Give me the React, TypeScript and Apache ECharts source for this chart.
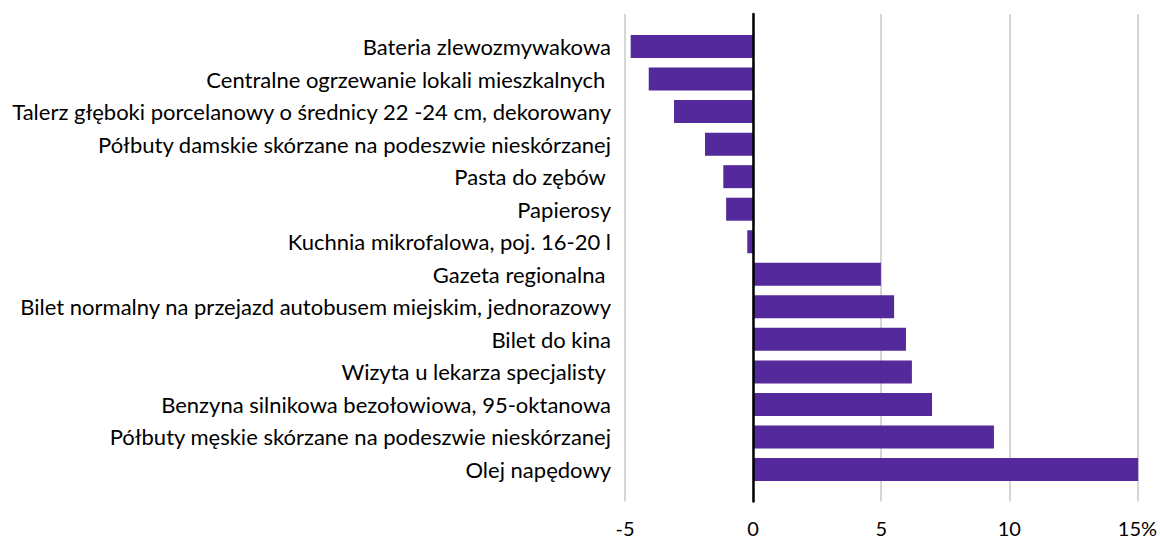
import React, { useEffect, useRef } from "react";
import * as echarts from "echarts";

const categories: string[] = [
  "Bateria zlewozmywakowa",
  "Centralne ogrzewanie lokali mieszkalnych ",
  "Talerz głęboki porcelanowy o średnicy 22 -24 cm, dekorowany",
  "Półbuty damskie skórzane na podeszwie nieskórzanej",
  "Pasta do zębów ",
  "Papierosy",
  "Kuchnia mikrofalowa, poj. 16-20 l",
  "Gazeta regionalna ",
  "Bilet normalny na przejazd autobusem miejskim, jednorazowy",
  "Bilet do kina",
  "Wizyta u lekarza specjalisty ",
  "Benzyna silnikowa bezołowiowa, 95-oktanowa",
  "Półbuty męskie skórzane na podeszwie nieskórzanej",
  "Olej napędowy",
];

const values: number[] = [
  -4.78, -4.08, -3.1, -1.9, -1.19, -1.08, -0.26, 4.92, 5.43, 5.89, 6.12, 6.9, 9.3, 14.89,
];

const xMin = -5;
const xMax = 15;
const xStep = 5;
const unitSuffix = "%";

const FONT = "Lato";

export default function App() {
  const ref = useRef<HTMLDivElement>(null);
  useEffect(() => {
    if (!ref.current) return;
    const chart = echarts.init(ref.current, null, { renderer: "svg" });
    chart.setOption({
      animation: false,
      backgroundColor: "#ffffff",
      grid: [
        { left: 625, right: 19, top: 14, bottom: 36.5 },
        { left: 625, right: 19, top: 30.25, bottom: 52.25 },
      ],
      xAxis: [
        {
          gridIndex: 0,
          type: "value",
          min: xMin,
          max: xMax,
          interval: xStep,
          axisLine: { show: false },
          axisTick: { show: false },
          splitLine: { show: true, lineStyle: { color: "#c9c9c9", width: 1.5 } },
          axisLabel: {
            color: "#000",
            fontFamily: FONT,
            fontSize: 20,
            margin: 16,
            formatter: (v: number) => (v === xMax ? `${v}${unitSuffix}` : `${v}`),
          },
        },
        {
          gridIndex: 1,
          type: "value",
          min: xMin,
          max: xMax,
          interval: xStep,
          show: false,
          splitLine: { show: false },
        },
      ],
      yAxis: [
        {
          gridIndex: 0,
          type: "value",
          min: 0,
          max: 1,
          axisLine: { show: true, onZero: true, lineStyle: { color: "#000", width: 2.5 } },
          axisTick: { show: false },
          axisLabel: { show: false },
          splitLine: { show: false },
          z: 5,
        },
        {
          gridIndex: 1,
          type: "category",
          inverse: true,
          data: categories,
          axisLine: { show: false, onZero: false },
          axisTick: { show: false },
          splitLine: { show: false },
          axisLabel: {
            color: "#000",
            fontFamily: FONT,
            fontSize: 22,
            margin: 14,
            interval: 0,
          },
        },
      ],
      series: [
        {
          type: "bar",
          xAxisIndex: 1,
          yAxisIndex: 1,
          data: values,
          barWidth: 23,
          itemStyle: { color: "#53299b" },
          z: 2,
        },
      ],
    });
    return () => chart.dispose();
  }, []);
  return <div ref={ref} style={{ width: 1160, height: 538, position: "absolute", left: 0, top: 0 }} />;
}
